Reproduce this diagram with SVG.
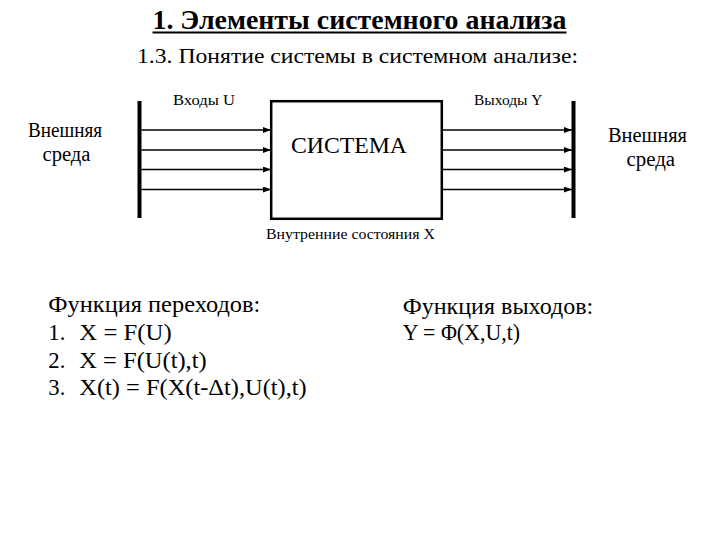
<svg xmlns="http://www.w3.org/2000/svg" width="720" height="540" viewBox="0 0 720 540" font-family="'Liberation Serif', 'Times New Roman', Times, serif">
  <defs>
    <marker id="arr" markerUnits="userSpaceOnUse" markerWidth="8" markerHeight="6" refX="8" refY="3" orient="auto">
      <path d="M0,0 L8,3 L0,6 Z" fill="#000"/>
    </marker>
    <style>
      text { font-family: 'Liberation Serif', 'Times New Roman', Times, serif; fill: #000; }
      .title { font-size: 28px; font-weight: bold; }
      .sub { font-size: 22px; }
      .lbl { font-size: 15px; }
      .env { font-size: 20px; }
      .sys { font-size: 24px; }
      .fn { font-size: 22.5px; }
      .line { stroke: #000; stroke-width: 1.6; fill: none; }
      .bar { fill: #000; }
    </style>
  </defs>
  <rect width="720" height="540" fill="#fff"/>

  <g id="header">
    <text class="title" x="152.5" y="29" textLength="414" lengthAdjust="spacingAndGlyphs">1. Элементы системного анализа</text>
    <rect x="152.5" y="31.5" width="414" height="2" fill="#000"/>
    <text class="sub" x="137" y="63" textLength="441" lengthAdjust="spacingAndGlyphs">1.3. Понятие системы в системном анализе:</text>
  </g>

  <g id="env-left">
    <text class="env" x="28" y="137" textLength="74" lengthAdjust="spacingAndGlyphs">Внешняя</text>
    <text class="env" x="42.5" y="160.5" textLength="48" lengthAdjust="spacingAndGlyphs">среда</text>
    <rect class="bar" x="137.5" y="101" width="4" height="117"/>
  </g>

  <g id="env-right">
    <rect class="bar" x="571.5" y="101" width="4" height="117"/>
    <text class="env" x="608" y="142" textLength="79" lengthAdjust="spacingAndGlyphs">Внешняя</text>
    <text class="env" x="626.5" y="165.5" textLength="48.5" lengthAdjust="spacingAndGlyphs">среда</text>
  </g>

  <g id="system">
    <rect x="271.2" y="101.2" width="170.6" height="117.6" fill="none" stroke="#000" stroke-width="2.5"/>
    <text class="sys" x="291" y="153" textLength="116" lengthAdjust="spacingAndGlyphs">СИСТЕМА</text>
    <text class="lbl" x="266" y="239" textLength="169" lengthAdjust="spacingAndGlyphs">Внутренние состояния X</text>
  </g>

  <g id="labels">
    <text class="lbl" x="173" y="104.5" textLength="62" lengthAdjust="spacingAndGlyphs">Входы U</text>
    <text class="lbl" x="474" y="104.5" textLength="68.5" lengthAdjust="spacingAndGlyphs">Выходы Y</text>
  </g>

  <g id="connectors">
    <line class="line" x1="141.5" y1="130" x2="271" y2="130" marker-end="url(#arr)"/>
    <line class="line" x1="141.5" y1="150" x2="271" y2="150" marker-end="url(#arr)"/>
    <line class="line" x1="141.5" y1="169.5" x2="271" y2="169.5" marker-end="url(#arr)" stroke-width="2"/>
    <line class="line" x1="141.5" y1="189.5" x2="271" y2="189.5" marker-end="url(#arr)" stroke-width="2"/>
    <line class="line" x1="442" y1="130" x2="572" y2="130" marker-end="url(#arr)"/>
    <line class="line" x1="442" y1="150" x2="572" y2="150" marker-end="url(#arr)"/>
    <line class="line" x1="442" y1="169.5" x2="572" y2="169.5" marker-end="url(#arr)" stroke-width="2"/>
    <line class="line" x1="442" y1="189.5" x2="572" y2="189.5" marker-end="url(#arr)" stroke-width="2"/>
  </g>

  <g id="transition-function">
    <text class="fn" x="48.3" y="312.3" textLength="212" lengthAdjust="spacingAndGlyphs">Функция переходов:</text>
    <text class="fn" x="48.3" y="340" textLength="17" lengthAdjust="spacingAndGlyphs">1.</text>
    <text class="fn" x="79.3" y="340" textLength="92.4" lengthAdjust="spacingAndGlyphs">X = F(U)</text>
    <text class="fn" x="48.3" y="367.5" textLength="17" lengthAdjust="spacingAndGlyphs">2.</text>
    <text class="fn" x="79.3" y="367.5" textLength="127.4" lengthAdjust="spacingAndGlyphs">X = F(U(t),t)</text>
    <text class="fn" x="48.3" y="395" textLength="17" lengthAdjust="spacingAndGlyphs">3.</text>
    <text class="fn" x="79.3" y="395" textLength="227.4" lengthAdjust="spacingAndGlyphs">X(t) = F(X(t-Δt),U(t),t)</text>
  </g>

  <g id="output-function">
    <text class="fn" x="402.7" y="314" textLength="190.6" lengthAdjust="spacingAndGlyphs">Функция выходов:</text>
    <text class="fn" x="402.7" y="340" textLength="117.3" lengthAdjust="spacingAndGlyphs">Y = Φ(X,U,t)</text>
  </g>
</svg>
